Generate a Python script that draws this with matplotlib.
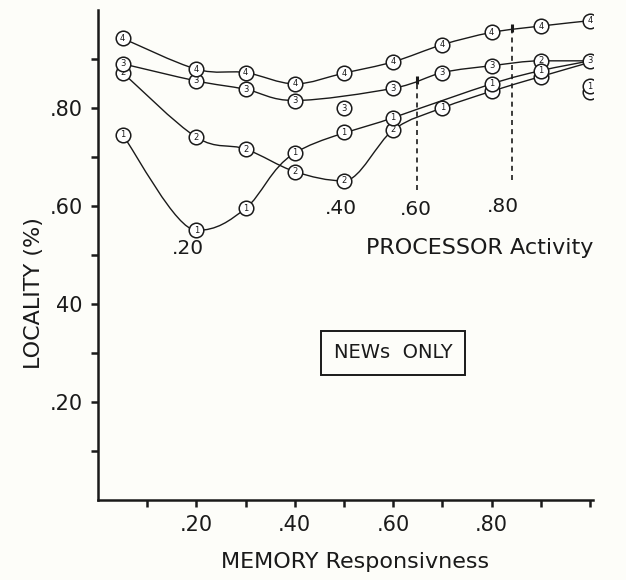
"""Locality vs memory responsiveness, one curve per processor activity (NEWs only)."""

import matplotlib
matplotlib.use("Agg")
import matplotlib.pyplot as plt
import numpy as np
from matplotlib.patches import PathPatch
from matplotlib.path import Path

# curve 1 .. 4
mem_1 = [0.05, 0.20, 0.30, 0.40, 0.60, 0.80, 0.90, 1.00]
loc_1 = [0.745, 0.550, 0.595, 0.708, 0.780, 0.849, 0.876, 0.896]
mem_2 = [0.05, 0.20, 0.30, 0.40, 0.50, 0.60, 0.70, 0.80, 0.90, 1.00]
loc_2 = [0.872, 0.740, 0.716, 0.670, 0.651, 0.755, 0.800, 0.834, 0.864, 0.893]
mem_3 = [0.05, 0.20, 0.30, 0.40, 0.60, 0.70, 0.80, 0.90, 1.00]
loc_3 = [0.890, 0.855, 0.838, 0.815, 0.840, 0.872, 0.886, 0.896, 0.896]
mem_4 = [0.05, 0.20, 0.30, 0.40, 0.50, 0.60, 0.70, 0.80, 0.90, 1.00]
loc_4 = [0.942, 0.879, 0.872, 0.849, 0.871, 0.894, 0.929, 0.954, 0.967, 0.978]

# numeral written in each circle: "" = circle hidden behind a neighbour,
# None = no circle (the line runs into another curve's circle)
num_1 = ["1", "1", "1", "1", "1", "1", "1", None]
num_2 = ["2", "2", "2", "2", "2", "2", "1", "", "", None]
num_3 = ["3", "3", "3", "3", "3", "3", "3", "2", "3"]
num_4 = ["4"] * 10

# points drawn off the curves
extra_num = ["3", "1", "", "1"]
extra_mem = [0.50, 0.50, 1.00, 1.00]
extra_loc = [0.799, 0.750, 0.832, 0.844]

# processor activity markers
proc_label = [".20", ".40", ".60", ".80"]
proc_mem = [0.183, 0.494, 0.646, 0.822]
proc_loc = [0.514, 0.595, 0.592, 0.599]
guide_mem = [0.648, 0.842]
guide_top = [0.857, 0.963]
guide_bottom = [0.633, 0.653]

x_ticks = [0.1, 0.2, 0.3, 0.4, 0.5, 0.6, 0.7, 0.8, 0.9, 1.0]
x_labels = ["", ".20", "", ".40", "", ".60", "", ".80", "", ""]
y_ticks = [0.1, 0.2, 0.3, 0.4, 0.5, 0.6, 0.7, 0.8, 0.9]
y_labels = ["", ".20", "", "40", "", ".60", "", ".80", ""]

INK = "#1a1a1a"
PAPER = "#fdfdf9"


def smooth_path(xs, ys):
    """Hand-drawn looking curve through the points (cubic bezier pieces)."""
    pts = np.column_stack([xs, ys]).astype(float)
    n = len(pts)
    tang = np.zeros_like(pts)
    for i in range(n):
        a = pts[max(i - 1, 0)]
        b = pts[min(i + 1, n - 1)]
        tang[i] = (b - a) / 6
        if 0 < i < n - 1:
            if (pts[i, 1] - a[1]) * (b[1] - pts[i, 1]) <= 0:
                tang[i, 1] = 0.0
    verts = [pts[0]]
    codes = [Path.MOVETO]
    for i in range(n - 1):
        verts += [pts[i] + tang[i], pts[i + 1] - tang[i + 1], pts[i + 1]]
        codes += [Path.CURVE4] * 3
    return Path(verts, codes)


def circled(ax, xs, ys, nums, z):
    for x, y, t in zip(xs, ys, nums):
        if t is None:
            continue
        ax.plot([x], [y], "o", ms=10.5, mfc="white", mec=INK, mew=1.1,
                zorder=z)
        if t:
            ax.text(x, y, t, ha="center", va="center", fontsize=6,
                    color=INK, zorder=z + 0.05)


fig = plt.figure(figsize=(6.26, 5.8), dpi=100, facecolor=PAPER)
ax = fig.add_axes([0.1565, 0.138, 0.790, 0.845])
ax.set_facecolor(PAPER)

curves = [(mem_1, loc_1, num_1), (mem_2, loc_2, num_2),
          (mem_3, loc_3, num_3), (mem_4, loc_4, num_4)]
for xs, ys, nums in curves:
    ax.add_patch(PathPatch(smooth_path(xs, ys), fc="none", ec=INK,
                           lw=1.0, zorder=2))
# lower circles first so the upper ones sit on top of them
circled(ax, extra_mem, extra_loc, extra_num, 3.0)
circled(ax, mem_2, loc_2, num_2, 3.1)
circled(ax, mem_3, loc_3, num_3, 3.2)
circled(ax, mem_1, loc_1, num_1, 3.3)
circled(ax, mem_4, loc_4, num_4, 3.4)

for gx, gt, gb in zip(guide_mem, guide_top, guide_bottom):
    ax.plot([gx, gx], [gb, gt], ls=(0, (3, 2.5)), color=INK, lw=1.2,
            zorder=1)
    ax.plot([gx], [gt], marker="|", ms=6, mew=2.2, color=INK, zorder=4)

for t, x, y in zip(proc_label, proc_mem, proc_loc):
    ax.text(x, y, t, ha="center", va="center", fontsize=14.5, color=INK)
ax.text(0.775, 0.514, "PROCESSOR Activity", ha="center", va="center",
        fontsize=16, color=INK)
ax.text(0.60, 0.30, "NEWs  ONLY", ha="center", va="center", fontsize=14,
        color=INK,
        bbox=dict(boxstyle="square,pad=0.65", fc="none", ec=INK, lw=1.4))

ax.set_xlim(0, 1.005)
ax.set_ylim(0, 1.0)
ax.set_xticks(x_ticks)
ax.set_xticklabels(x_labels)
ax.set_yticks(y_ticks)
ax.set_yticklabels(y_labels)
ax.tick_params(length=5, width=1.8, color=INK, labelcolor=INK,
               labelsize=15, pad=6)
for side in ("top", "right"):
    ax.spines[side].set_visible(False)
for side in ("left", "bottom"):
    ax.spines[side].set_linewidth(1.8)
    ax.spines[side].set_color(INK)

ax.set_xlabel("MEMORY Responsivness", fontsize=16, color=INK, labelpad=12,
              x=0.52)
fig.text(34 / 626, 1 - 293 / 580, "LOCALITY (%)", rotation=90,
         ha="center", va="center", fontsize=16, color=INK)

fig.savefig("out.png", dpi=100, facecolor=fig.get_facecolor())
